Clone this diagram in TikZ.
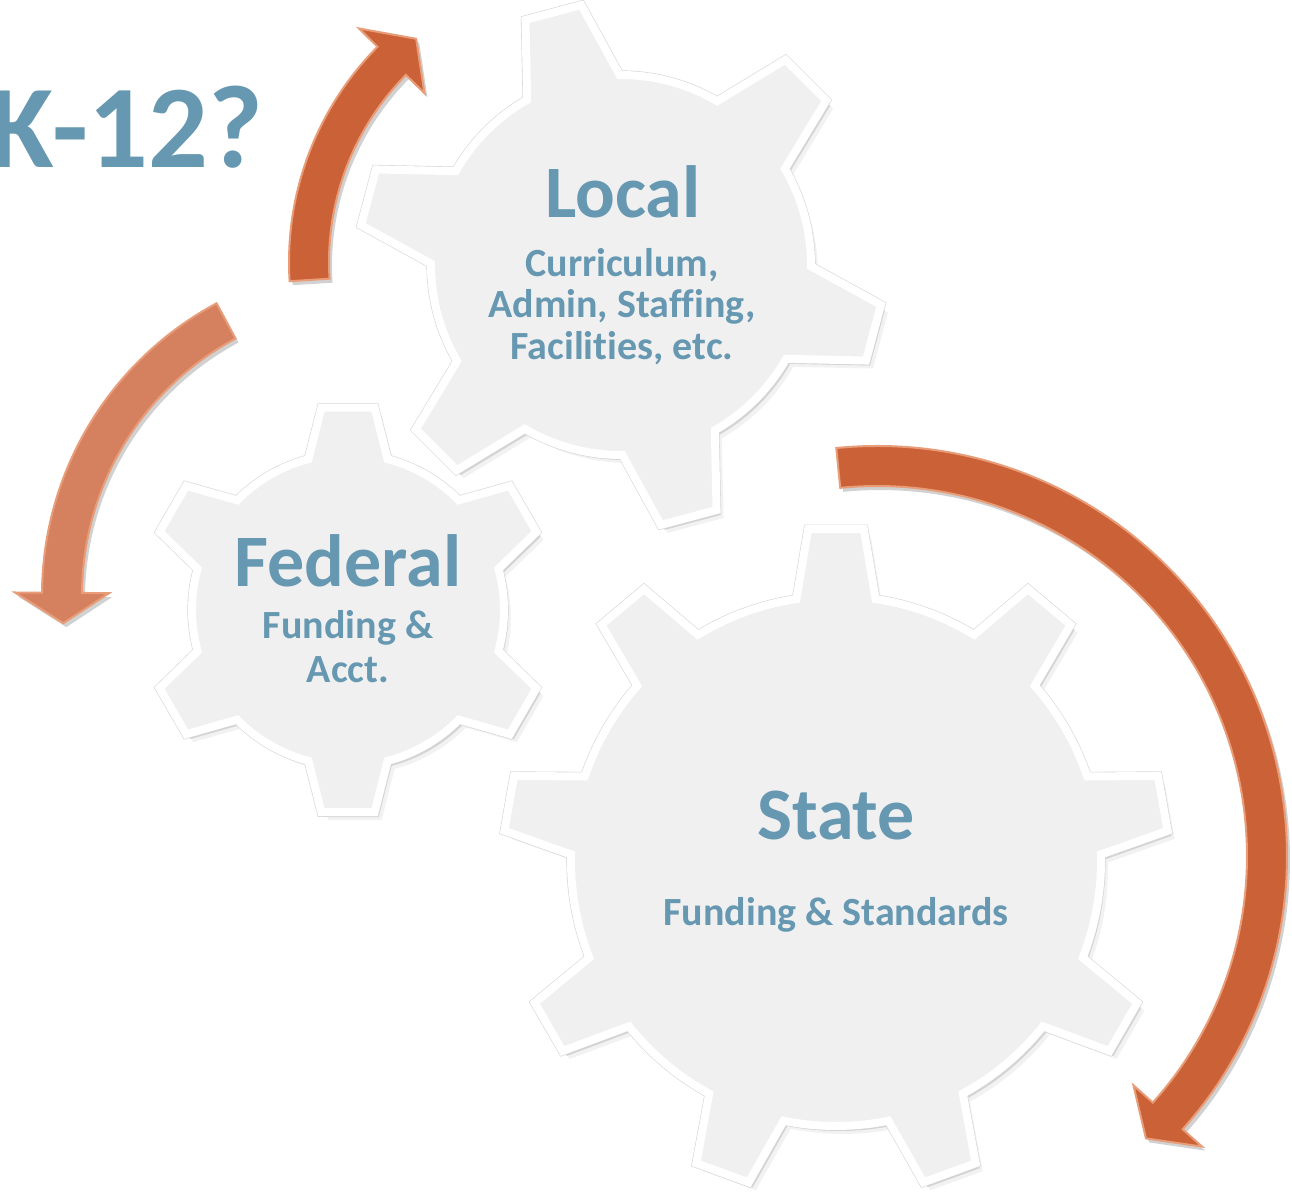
\documentclass[tikz,border=0pt]{standalone}
\usepackage{fontspec}
\setmainfont{Carlito}[Ligatures=NoCommon]
\definecolor{txtblue}{RGB}{103,152,178}
\definecolor{gearfill}{RGB}{240,240,240}
\definecolor{gearline}{RGB}{214,214,214}
\definecolor{arrorange}{RGB}{203,97,55}
\definecolor{arrlight}{RGB}{232,156,120}
% gear outline: N teeth, phase, body radius, tip radius, base half-angle, tip half-angle
\newcommand{\gearoutline}[6]{({#2-#5}:#3) \foreach \k in {1,...,#1}{
    -- ({#2+360/#1*(\k-1)-#5}:#3) -- ({#2+360/#1*(\k-1)-#6}:#4)
    -- ({#2+360/#1*(\k-1)+#6}:#4) -- ({#2+360/#1*(\k-1)+#5}:#3)
    arc[start angle={#2+360/#1*(\k-1)+#5}, end angle={#2+360/#1*\k-#5}, radius=#3]
  } -- cycle}
% curved arrow: radius, shaft half-width, head half-width, tail angle, head-base angle, tip angle
\newcommand{\arcarrow}[6]{({#4}:{#1+#2}) arc[start angle=#4, end angle=#5, radius={#1+#2}]
  -- ({#5}:{#1+#3}) -- ({#6}:#1) -- ({#5}:{#1-#3}) -- ({#5}:{#1-#2})
  arc[start angle=#5, end angle=#4, radius={#1-#2}] -- cycle}
\tikzset{
  gearshadow/.style={fill=black, opacity=0.12},
  gearshadowsoft/.style={fill=black, opacity=0.05},
  gearrim/.style={fill=gearline, draw=gearline, line width=4.6pt, line join=miter},
  gearbody/.style={fill=gearfill, draw=white, line width=4pt, line join=miter},
  arrshadow/.style={fill=black, opacity=0.18},
  arrbody/.style={fill=arrorange, draw=arrlight, line width=1pt, line join=miter},
  headtext/.style={font=\fontsize{37}{40}\selectfont\bfseries, text=txtblue, inner sep=0pt},
  subtext/.style={font=\fontsize{20}{24}\selectfont\bfseries, text=txtblue, inner sep=0pt},
  titletext/.style={font=\fontsize{59}{64}\selectfont\bfseries, text=txtblue, inner sep=0pt},
}
\begin{document}
\begin{tikzpicture}[x=0.5pt, y=0.5pt]
\useasboundingbox (0,0) rectangle (1292,1194);
\fill[white] (0,0) rectangle (1292,1194);

% ---- Local gear
\begin{scope}[shift={(621,929)}]
  \path[gearshadowsoft, shift={(7,-8)}] \gearoutline{6}{105}{190}{263}{14.6}{6.3};
  \path[gearshadow, shift={(4,-5)}] \gearoutline{6}{105}{190}{263}{14.6}{6.3};
  \path[gearrim] \gearoutline{6}{105}{190}{263}{14.6}{6.3};
  \path[gearbody] \gearoutline{6}{105}{190}{263}{14.6}{6.3};
\end{scope}
% ---- Federal gear
\begin{scope}[shift={(348,584)}]
  \path[gearshadowsoft, shift={(7,-8)}] \gearoutline{6}{90}{156}{204}{14.7}{7.5};
  \path[gearshadow, shift={(4,-5)}] \gearoutline{6}{90}{156}{204}{14.7}{7.5};
  \path[gearrim] \gearoutline{6}{90}{156}{204}{14.7}{7.5};
  \path[gearbody] \gearoutline{6}{90}{156}{204}{14.7}{7.5};
\end{scope}
% ---- State gear
\begin{scope}[shift={(836,333)}]
  \path[gearshadowsoft, shift={(7,-8)}] \gearoutline{9}{90}{265}{333}{8.6}{4.8};
  \path[gearshadow, shift={(4,-5)}] \gearoutline{9}{90}{265}{333}{8.6}{4.8};
  \path[gearrim] \gearoutline{9}{90}{265}{333}{8.6}{4.8};
  \path[gearbody] \gearoutline{9}{90}{265}{333}{8.6}{4.8};
\end{scope}

% ---- arrows
\begin{scope}[shift={(595,932)}]
  \path[arrshadow, shift={(3,-4)}] \arcarrow{286}{20}{46}{183.6}{135.3}{128.7};
  \path[arrbody] \arcarrow{286}{20}{46}{183.6}{135.3}{128.7};
\end{scope}
\begin{scope}[shift={(373,599)}]
  \path[arrshadow, shift={(3,-4)}] \arcarrow{311}{20}{47}{118.2}{179.6}{185.2};
  \path[arrbody, fill=arrorange!80!white] \arcarrow{311}{20}{47}{118.2}{179.6}{185.2};
\end{scope}
\begin{scope}[shift={(877,338)}]
  \path[arrshadow, shift={(3,-4)}] \arcarrow{390}{20}{46}{95.7}{-41.8}{-46.4};
  \path[arrbody] \arcarrow{390}{20}{46}{95.7}{-41.8}{-46.4};
\end{scope}

% ---- texts
\node[titletext, anchor=base east] (k12) at (263,1026) {K-12?};

\node[headtext, anchor=base] (local) at (623,976) {Local};
\node[subtext, anchor=base] (localA) at (622,917) {Curriculum,};
\node[subtext, anchor=base] (localB) at (622,876) {Admin, Staffing,};
\node[subtext, anchor=base] (localC) at (622,834) {Facilities, etc.};

\node[headtext, anchor=base] (federal) at (348,607) {Federal};
\node[subtext, anchor=base] (federalA) at (348,555) {Funding \&};
\node[subtext, anchor=base] (federalB) at (348,511) {Acct.};

\node[headtext, anchor=base] (state) at (836,354) {State};
\node[subtext, anchor=base] (stateA) at (836,268) {Funding \& Standards};
\end{tikzpicture}
\end{document}
